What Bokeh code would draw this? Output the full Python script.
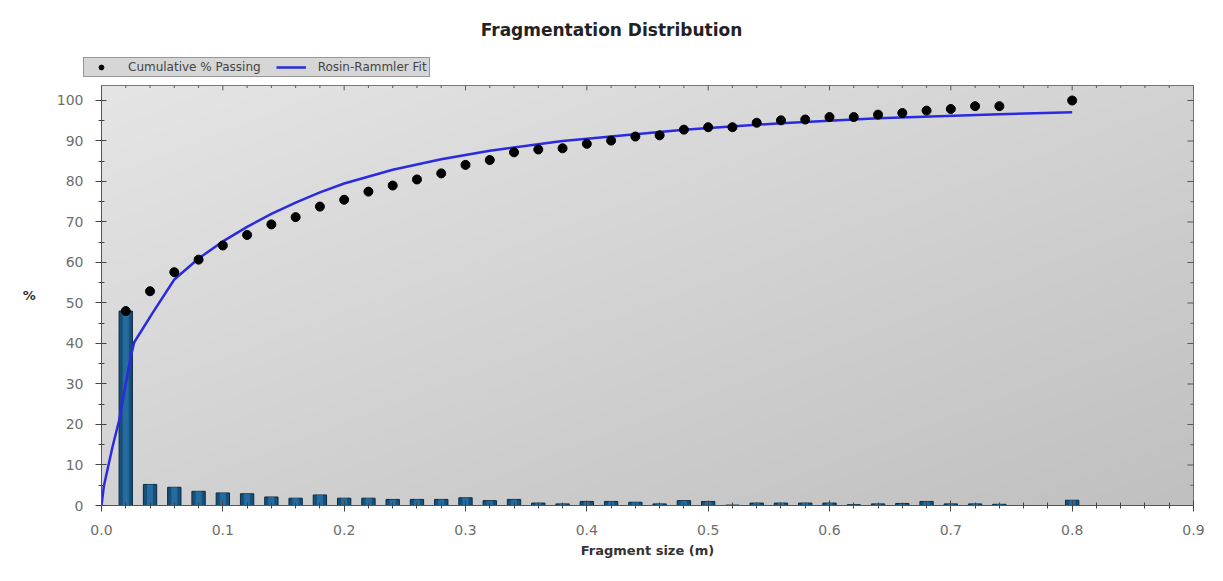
import numpy as np
from bokeh.plotting import figure
from bokeh.layouts import column
from bokeh.models import (Legend, LegendItem, Range1d,
                          NumeralTickFormatter, FixedTicker)
from bokeh.embed import file_html
from bokeh.resources import INLINE

# ---------------- data ----------------
# retained % per size class (histogram bars)
bar_sizes = [0.02, 0.04, 0.06, 0.08, 0.10, 0.12, 0.14, 0.16, 0.18, 0.20,
             0.22, 0.24, 0.26, 0.28, 0.30, 0.32, 0.34, 0.36, 0.38, 0.40,
             0.42, 0.44, 0.46, 0.48, 0.50, 0.52, 0.54, 0.56, 0.58, 0.60,
             0.62, 0.64, 0.66, 0.68, 0.70, 0.72, 0.74, 0.76, 0.78, 0.80]
bar_retained = [48.0, 5.2, 4.5, 3.5, 3.1, 2.9, 2.1, 1.8, 2.6, 1.8,
                1.8, 1.5, 1.5, 1.5, 1.9, 1.2, 1.5, 0.6, 0.4, 1.0,
                1.0, 0.8, 0.4, 1.2, 1.0, 0.1, 0.6, 0.6, 0.6, 0.6,
                0.2, 0.4, 0.5, 1.0, 0.4, 0.4, 0.3, 0.0, 0.0, 1.3]

# cumulative % passing (black dots)
cum_sizes = [0.02, 0.04, 0.06, 0.08, 0.10, 0.12, 0.14, 0.16, 0.18, 0.20,
             0.22, 0.24, 0.26, 0.28, 0.30, 0.32, 0.34, 0.36, 0.38, 0.40,
             0.42, 0.44, 0.46, 0.48, 0.50, 0.52, 0.54, 0.56, 0.58, 0.60,
             0.62, 0.64, 0.66, 0.68, 0.70, 0.72, 0.74, 0.80]
cum_passing = [48.0, 52.9, 57.6, 60.7, 64.2, 66.8, 69.4, 71.2, 73.8, 75.5,
               77.5, 79.0, 80.5, 82.0, 84.1, 85.3, 87.2, 87.9, 88.2, 89.3,
               90.1, 91.1, 91.4, 92.8, 93.4, 93.4, 94.5, 95.1, 95.3, 95.9,
               95.9, 96.5, 96.9, 97.5, 97.9, 98.6, 98.6, 100.0]

# Rosin-Rammler fit curve (blue line)
fit_sizes = [0.0, 0.002, 0.009, 0.0145, 0.0195, 0.024, 0.027, 0.042, 0.06,
             0.08, 0.10, 0.12, 0.14, 0.16, 0.18, 0.20, 0.24, 0.28, 0.32,
             0.38, 0.48, 0.56, 0.64, 0.74, 0.80]
fit_passing = [0.0, 4.9, 14.4, 21.0, 29.2, 36.6, 40.3, 47.5, 55.8,
               61.0, 65.2, 68.8, 72.0, 74.8, 77.3, 79.5, 82.9, 85.5, 87.6,
               90.0, 92.8, 94.4, 95.6, 96.6, 97.1]

x_ticks = [0.0, 0.1, 0.2, 0.3, 0.4, 0.5, 0.6, 0.7, 0.8, 0.9]
x_minor = [0.02, 0.04, 0.06, 0.08, 0.12, 0.14, 0.16, 0.18, 0.22, 0.24,
           0.26, 0.28, 0.32, 0.34, 0.36, 0.38, 0.42, 0.44, 0.46, 0.48,
           0.52, 0.54, 0.56, 0.58, 0.62, 0.64, 0.66, 0.68, 0.72, 0.74,
           0.76, 0.78, 0.82, 0.84, 0.86, 0.88]
y_ticks = [0, 10, 20, 30, 40, 50, 60, 70, 80, 90, 100]
y_minor = [5, 15, 25, 35, 45, 55, 65, 75, 85, 95]

X0, X1 = 0.0, 0.9
Y0, Y1 = 0.0, 103.7

FONT = "DejaVu Sans"
BLUE = "#2a2ae0"
W = 1222

# ---------------- header figure: title + legend ----------------
top = figure(width=W, height=84, x_range=Range1d(10, 11), y_range=Range1d(0, 1),
             x_axis_location=None, y_axis_location=None,
             output_backend="svg", toolbar_location=None,
             min_border_left=0, min_border_right=0,
             min_border_top=44, min_border_bottom=0,
             outline_line_color=None, border_fill_color="white",
             background_fill_color="white")
if hasattr(top, "frame_align"):
    top.frame_align = False
top.grid.visible = False
top.title.text = "Fragmentation Distribution"
top.title.text_font = FONT
top.title.text_font_size = "17px"
top.title.text_font_style = "bold"
top.title.text_color = "#222222"
top.title.align = "center"

# legend proxies (same series; they fall outside this header's ranges)
leg_pts = top.scatter(cum_sizes, cum_passing, size=9,
                      fill_color="black", line_color="black")
leg_line = top.line(fit_sizes, fit_passing, line_color=BLUE, line_width=2.5)
legend = Legend(items=[LegendItem(label="Cumulative % Passing", renderers=[leg_pts]),
                       LegendItem(label="Rosin-Rammler Fit", renderers=[leg_line])],
                orientation="horizontal", location=(83, 7),
                background_fill_color="#d6d6d6", background_fill_alpha=1.0,
                border_line_color="#555555", border_line_width=1,
                label_text_font=FONT, label_text_font_size="12px",
                label_text_color="#444444",
                glyph_width=30, glyph_height=12, label_height=12,
                label_standoff=12, spacing=15, padding=2, margin=0)
top.add_layout(legend)

# ---------------- main chart ----------------
p = figure(width=W, height=496, title=None,
           x_range=Range1d(X0, X1), y_range=Range1d(Y0, Y1),
           output_backend="svg", toolbar_location=None,
           min_border_left=101, min_border_right=29,
           min_border_top=1, min_border_bottom=75,
           background_fill_color="#d4d4d4", border_fill_color="white")
if hasattr(p, "frame_align"):
    p.frame_align = False

# gradient background of the plot area (style only)
n = 128
u = np.linspace(0, 1, n)[None, :]
v = np.linspace(0, 1, n)[:, None]
t = (u + (1 - v)) / 2.0
light = np.array([229, 229, 229])
dark = np.array([192, 192, 192])
img = np.empty((n, n), dtype=np.uint32)
view = img.view(dtype=np.uint8).reshape((n, n, 4))
for k in range(3):
    view[:, :, k] = (light[k] * (1 - t) + dark[k] * t).astype(np.uint8)
view[:, :, 3] = 255
p.image_rgba(image=[img], x=X0, y=Y0, dw=X1 - X0, dh=Y1 - Y0)

# mirrored ticks along the top and right frame edges
p.segment(x0=x_ticks, x1=x_ticks, y0=[Y1] * len(x_ticks),
          y1=[Y1 - 1.2] * len(x_ticks), line_color="#555555", line_width=1)
p.segment(x0=x_minor, x1=x_minor, y0=[Y1] * len(x_minor),
          y1=[Y1 - 0.6] * len(x_minor), line_color="#555555", line_width=1)
p.segment(x0=[X1] * len(y_ticks), x1=[X1 - 0.005] * len(y_ticks),
          y0=y_ticks, y1=y_ticks, line_color="#555555", line_width=1)
p.segment(x0=[X1] * len(y_minor), x1=[X1 - 0.0025] * len(y_minor),
          y0=y_minor, y1=y_minor, line_color="#555555", line_width=1)

# histogram bars
p.vbar(x=bar_sizes, top=bar_retained, width=0.011,
       fill_color="#164f78", line_color="#0b2a42", line_width=1)
p.vbar(x=bar_sizes, top=bar_retained, width=0.005,
       fill_color="#2d78ae", fill_alpha=0.7, line_alpha=0)

# fit line and cumulative points
p.line(fit_sizes, fit_passing, line_color=BLUE, line_width=2.5)
p.scatter(cum_sizes, cum_passing, size=9, fill_color="black", line_color="black")

# axes
p.xaxis.ticker = FixedTicker(ticks=x_ticks, minor_ticks=x_minor)
p.yaxis.ticker = FixedTicker(ticks=y_ticks, minor_ticks=y_minor)
p.xaxis.formatter = NumeralTickFormatter(format="0.0")
p.grid.visible = False

for ax in (p.xaxis[0], p.yaxis[0]):
    ax.axis_line_color = "#555555"
    ax.major_tick_line_color = "#444444"
    ax.minor_tick_line_color = "#444444"
    ax.major_tick_in = 5
    ax.major_tick_out = 6
    ax.minor_tick_in = 3
    ax.minor_tick_out = 3
    ax.major_label_text_font = FONT
    ax.major_label_text_font_size = "14px"
    ax.major_label_text_color = "#6e6e6e"
    ax.axis_label_text_font = FONT
    ax.axis_label_text_font_style = "bold"
    ax.axis_label_text_font_size = "13px"
    ax.axis_label_text_color = "#333333"

p.xaxis.axis_label = "Fragment size (m)"
p.xaxis.major_label_standoff = 13
p.xaxis.axis_label_standoff = 5
p.yaxis.axis_label = "%"
p.yaxis.axis_label_orientation = "horizontal"
p.yaxis.major_label_standoff = 12
p.yaxis.axis_label_standoff = 18

p.outline_line_color = "#555555"

layout = column(top, p, spacing=0)
open("out.html", "w").write(file_html(layout, INLINE))
